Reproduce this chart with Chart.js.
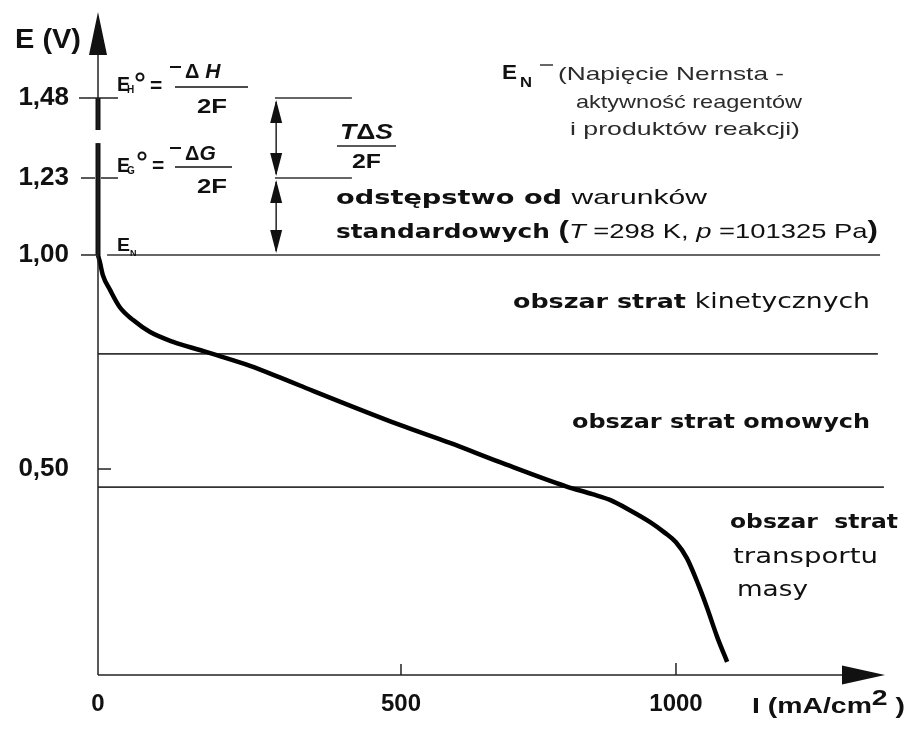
<!DOCTYPE html>
<html>
<head>
<meta charset="utf-8">
<script src="https://cdn.jsdelivr.net/npm/chart.js@4.4.1/dist/chart.umd.min.js"></script>
<style>
  html, body { margin: 0; padding: 0; background: #fff; }
  #ramka { width: 911px; height: 735px; }
</style>
</head>
<body>
<div id="ramka"><canvas id="wykres"></canvas></div>
<script>
// krzywa polaryzacji ogniwa: gestosc pradu (mA/cm2) -> napiecie (V)
const gestoscPradu = [0, 3, 8, 20, 36, 58, 86, 124, 168, 196, 251, 300, 333, 498, 589, 680, 800, 848, 880, 916, 953, 980, 1000, 1020, 1041, 1056, 1075, 1093];
const napiecie = [1.00, 0.984, 0.953, 0.918, 0.878, 0.848, 0.820, 0.797, 0.778, 0.766, 0.741, 0.714, 0.695, 0.603, 0.561, 0.516, 0.458, 0.439, 0.425, 0.400, 0.371, 0.345, 0.322, 0.283, 0.218, 0.165, 0.092, 0.032];

const tickiX = [0, 500, 1000];
const tickiY = [0.50, 1.00, 1.23, 1.48];
const etykietyY = ['0,50', '1,00', '1,23', '1,48'];

// granice obszarow strat (V) i ich zasieg w pradzie
const graniceObszarow = [1.00, 0.769, 0.456];
const koniecGranic = [1371, 1367, 1378];
const poczatekGranic = [15, 0, 0];

// E_H i E_G oraz odcinek przy strzalkach T dS / 2F
const poziomyTeoretyczne = [1.48, 1.23];
const zasiegPoziomow = [292, 419];
const pradStrzalek = 294;

// pogrubione fragmenty osi E i przerwa w osi
const osPogrubiona = [[1.00, 1.339], [1.38, 1.48]];
const przerwaOsi = [1.339, 1.38];

// os E nie jest rysowana w skali powyzej 1 V, os I tez nie do konca
const wezlySkal = {
  x: { wartosci: [0, 500, 1000, 1380], ulamki: [0, 0.385, 0.7344, 1] },
  y: { wartosci: [0, 0.5, 1.0, 1.23, 1.48, 1.75], ulamki: [0, 0.3107, 0.6335, 0.7496, 0.8703, 1] }
};

class SkalaLamana extends Chart.LinearScale {
  ulamek(v) {
    const w = wezlySkal[this.id].wartosci, u = wezlySkal[this.id].ulamki;
    let i = 0;
    while (i < w.length - 2 && v > w[i + 1]) i++;
    return u[i] + (v - w[i]) / (w[i + 1] - w[i]) * (u[i + 1] - u[i]);
  }
  getPixelForValue(v) {
    return v === null ? NaN : this.getPixelForDecimal(this.ulamek(v));
  }
  getValueForPixel(p) {
    const w = wezlySkal[this.id].wartosci, u = wezlySkal[this.id].ulamki;
    const d = this.getDecimalForPixel(p);
    let i = 0;
    while (i < u.length - 2 && d > u[i + 1]) i++;
    return w[i] + (d - u[i]) / (u[i + 1] - u[i]) * (w[i + 1] - w[i]);
  }
}
SkalaLamana.id = 'lamana';
SkalaLamana.defaults = {};
Chart.register(SkalaLamana);

const LS = '"Liberation Sans", Arial, sans-serif';
const DV = '"DejaVu Sans", Verdana, sans-serif';

// tekst z kilku kawalkow roznymi czcionkami, opcjonalnie dociagniety do szerokosci
function napis(ctx, czesci, x, y, szer) {
  let w = 0;
  for (const c of czesci) { ctx.font = c[1]; w += ctx.measureText(c[0]).width; }
  const k = szer ? szer / w : 1;
  ctx.save();
  ctx.translate(x, y);
  ctx.scale(k, 1);
  ctx.textBaseline = 'alphabetic';
  ctx.textAlign = 'left';
  let px = 0;
  for (const c of czesci) {
    ctx.font = c[1];
    ctx.fillStyle = c[2] || '#111';
    ctx.fillText(c[0], px, c[3] || 0);
    px += ctx.measureText(c[0]).width;
  }
  ctx.restore();
}

function odcinek(ctx, x1, y1, x2, y2, gr) {
  ctx.lineWidth = gr || 1.5;
  ctx.beginPath(); ctx.moveTo(x1, y1); ctx.lineTo(x2, y2); ctx.stroke();
}

function grot(ctx, xs, ys, xp, yp, pol) {
  // xs,ys - czubek; xp,yp - srodek podstawy
  const dx = xp - xs, dy = yp - ys, d = Math.hypot(dx, dy);
  const nx = -dy / d * pol, ny = dx / d * pol;
  ctx.beginPath();
  ctx.moveTo(xs, ys);
  ctx.lineTo(xp + nx, yp + ny);
  ctx.lineTo(xp - nx, yp - ny);
  ctx.closePath();
  ctx.fill();
}

const dopiski = {
  id: 'dopiski',
  afterDraw(chart) {
    const ctx = chart.ctx, sx = chart.scales.x, sy = chart.scales.y;
    const X = v => sx.getPixelForValue(v), Y = v => sy.getPixelForValue(v);
    const x0 = X(0), y0 = Y(0);
    ctx.save();
    ctx.strokeStyle = '#222';
    ctx.fillStyle = '#111';

    // os E z przerwa i grotem
    odcinek(ctx, x0, y0, x0, Y(przerwaOsi[0]));
    odcinek(ctx, x0, Y(przerwaOsi[1]), x0, sy.top + 30);
    grot(ctx, x0, sy.top, x0, sy.top + 43, 9);
    // os I z grotem
    odcinek(ctx, x0, y0, sx.right - 30, y0);
    grot(ctx, sx.right, y0, sx.right - 43, y0, 9.5);

    // kreski podzialki
    odcinek(ctx, x0 - 19, Y(1.48), x0 + 20, Y(1.48));
    odcinek(ctx, x0 - 17, Y(1.23), x0 - 3, Y(1.23));
    odcinek(ctx, x0 + 3, Y(1.23), x0 + 20, Y(1.23));
    odcinek(ctx, x0 - 17, Y(1.00), x0, Y(1.00));
    odcinek(ctx, x0, Y(0.50), x0 + 13, Y(0.50));
    odcinek(ctx, X(500), y0, X(500), y0 - 11);
    odcinek(ctx, X(1000), y0, X(1000), y0 - 12);

    // strzalki T dS / 2F
    const xs = X(pradStrzalek);
    const par = [[1.48, 1.23], [1.23, 1.00]];
    for (const [g, d] of par) {
      const yg = Y(g), yd = Y(d);
      odcinek(ctx, xs, yg + 4, xs, yd - 4, 1.5);
      grot(ctx, xs, yg + 2, xs, yg + 25, 6);
      grot(ctx, xs, yd - 2, xs, yd - 25, 6);
    }

    // E_H = -dH / 2F
    napis(ctx, [['E', 'bold 21px ' + LS]], 117, 91, 13);
    napis(ctx, [['H', 'bold 10px ' + LS]], 127, 93);
    ctx.strokeStyle = '#111';
    ctx.lineWidth = 2;
    ctx.beginPath(); ctx.arc(140, 77, 3.5, 0, Math.PI * 2); ctx.stroke();
    napis(ctx, [['=', 'bold 21px ' + LS]], 150, 92);
    odcinek(ctx, 170, 67, 181, 67, 2);
    napis(ctx, [['Δ', 'bold 20px ' + LS], [' H', 'italic bold 21px ' + LS]], 185, 78);
    odcinek(ctx, 175, 87, 248, 87, 1.5);
    napis(ctx, [['2F', 'bold 21px ' + LS]], 197, 113, 30);

    // E_G = -dG / 2F
    napis(ctx, [['E', 'bold 21px ' + LS]], 117, 172, 13);
    napis(ctx, [['G', 'bold 10px ' + LS]], 127, 174);
    ctx.lineWidth = 2;
    ctx.beginPath(); ctx.arc(142, 156, 3.5, 0, Math.PI * 2); ctx.stroke();
    napis(ctx, [['=', 'bold 21px ' + LS]], 152, 172);
    odcinek(ctx, 170, 148, 181, 148, 2);
    napis(ctx, [['Δ', 'bold 20px ' + LS], ['G', 'italic bold 21px ' + LS]], 185, 160);
    odcinek(ctx, 175, 167, 232, 167, 1.5);
    napis(ctx, [['2F', 'bold 21px ' + LS]], 197, 193, 30);

    // E_N przy 1,00
    napis(ctx, [['E', 'bold 19px ' + LS]], 117, 251, 13);
    napis(ctx, [['N', 'bold 9px ' + LS]], 130, 256);

    // T dS / 2F
    napis(ctx, [['T', 'italic bold 22px ' + LS], ['Δ', 'bold 22px ' + LS], ['S', 'italic bold 22px ' + LS]], 340, 139, 53);
    ctx.strokeStyle = '#222';
    odcinek(ctx, 337, 146, 396, 146, 1.5);
    napis(ctx, [['2F', 'bold 21px ' + LS]], 352, 168, 29);

    // E_N - opis
    napis(ctx, [['E', 'bold 21px ' + LS]], 502, 79, 15);
    napis(ctx, [['N', 'bold 15px ' + LS]], 520, 87, 12);
    ctx.strokeStyle = '#333';
    odcinek(ctx, 540, 65, 553, 65, 1.5);
    const szary = '#2b2b2b';
    napis(ctx, [['(Napięcie Nernsta -', '19px ' + LS, szary]], 558, 80, 226);
    napis(ctx, [['aktywność reagentów', '19px ' + LS, szary]], 576, 108, 226);
    napis(ctx, [['i produktów reakcji)', '19px ' + LS, szary]], 570, 135, 230);

    // odstepstwo od warunkow standardowych
    napis(ctx, [['odstępstwo od ', 'bold 19px ' + DV], ['warunków', '21px ' + LS]], 336, 204, 371);
    napis(ctx, [['standardowych ', 'bold 19px ' + DV], ['(', 'bold 24px ' + LS], ['T', 'italic 21px ' + LS],
      [' =298 K, ', '21px ' + LS], ['p', 'italic 21px ' + LS], [' =101325 Pa', '21px ' + LS], [')', 'bold 24px ' + LS]], 336, 238, 542);

    // obszary strat
    napis(ctx, [['obszar strat ', 'bold 20px ' + DV], ['kinetycznych', '21px ' + DV]], 513, 308, 357);
    napis(ctx, [['obszar strat omowych', 'bold 20px ' + DV]], 572, 428, 298);
    napis(ctx, [['obszar  strat', 'bold 20px ' + DV]], 730, 528, 168);
    napis(ctx, [['transportu', '21px ' + DV]], 733, 563, 145);
    napis(ctx, [['masy', '21px ' + DV]], 737, 596, 71);

    // opis osi I i osi E
    napis(ctx, [['I (mA/cm', 'bold 22px ' + LS], ['2', 'bold 22px ' + LS, '#111', -8], [' )', 'bold 22px ' + LS]], 752, 713, 153);
    napis(ctx, [['E (V)', 'bold 27px ' + LS]], 15, 48, 66);

    ctx.restore();
  }
};

const zestawy = [];
// krzywa
zestawy.push({
  data: gestoscPradu.map((x, i) => ({ x: x, y: napiecie[i] })),
  borderColor: '#000',
  borderWidth: 4.5,
  pointRadius: 0,
  cubicInterpolationMode: 'monotone',
  clip: false
});
// granice obszarow
graniceObszarow.forEach((e, i) => {
  zestawy.push({
    data: [{ x: poczatekGranic[i], y: e }, { x: koniecGranic[i], y: e }],
    borderColor: '#333', borderWidth: 1.6, pointRadius: 0, clip: false
  });
});
// poziomy E_H i E_G
poziomyTeoretyczne.forEach(e => {
  zestawy.push({
    data: [{ x: zasiegPoziomow[0], y: e }, { x: zasiegPoziomow[1], y: e }],
    borderColor: '#333', borderWidth: 1.4, pointRadius: 0, clip: false
  });
});
// pogrubiona os
osPogrubiona.forEach(([a, b]) => {
  zestawy.push({
    data: [{ x: 0, y: a }, { x: 0, y: b }],
    borderColor: '#111', borderWidth: 5, pointRadius: 0, clip: false
  });
});

// bez dodatkowych marginesow od etykiet, obszar wykresu 98..885 x 12..675
function bezMarginesow(s) {
  s.paddingTop = 0; s.paddingBottom = 0; s.paddingLeft = 0; s.paddingRight = 0;
}

new Chart(document.getElementById('wykres'), {
  type: 'line',
  data: { datasets: zestawy },
  options: {
    responsive: true,
    maintainAspectRatio: false,
    animation: false,
    parsing: false,
    layout: { padding: { left: 0, right: 26, top: 12, bottom: 0 } },
    plugins: { legend: { display: false }, tooltip: { enabled: false } },
    scales: {
      x: {
        type: 'lamana',
        min: 0,
        max: 1380,
        grid: { display: false, drawTicks: false },
        border: { display: false },
        afterBuildTicks: s => { s.ticks = tickiX.map(v => ({ value: v })); },
        afterFit: s => { s.height = 60; bezMarginesow(s); },
        ticks: {
          autoSkip: false,
          maxRotation: 0,
          padding: 15,
          color: '#111',
          font: { family: 'Liberation Sans', size: 24, weight: 'bold' },
          callback: (v, i) => String(tickiX[i])
        }
      },
      y: {
        type: 'lamana',
        min: 0,
        max: 1.75,
        grid: { display: false, drawTicks: false },
        border: { display: false },
        afterBuildTicks: s => { s.ticks = tickiY.map(v => ({ value: v })); },
        afterFit: s => { s.width = 98; bezMarginesow(s); },
        ticks: {
          autoSkip: false,
          padding: 29,
          color: '#111',
          font: { family: 'Liberation Sans', size: 26, weight: 'bold' },
          callback: (v, i) => etykietyY[i]
        }
      }
    }
  },
  plugins: [dopiski]
});
</script>
</body>
</html>
